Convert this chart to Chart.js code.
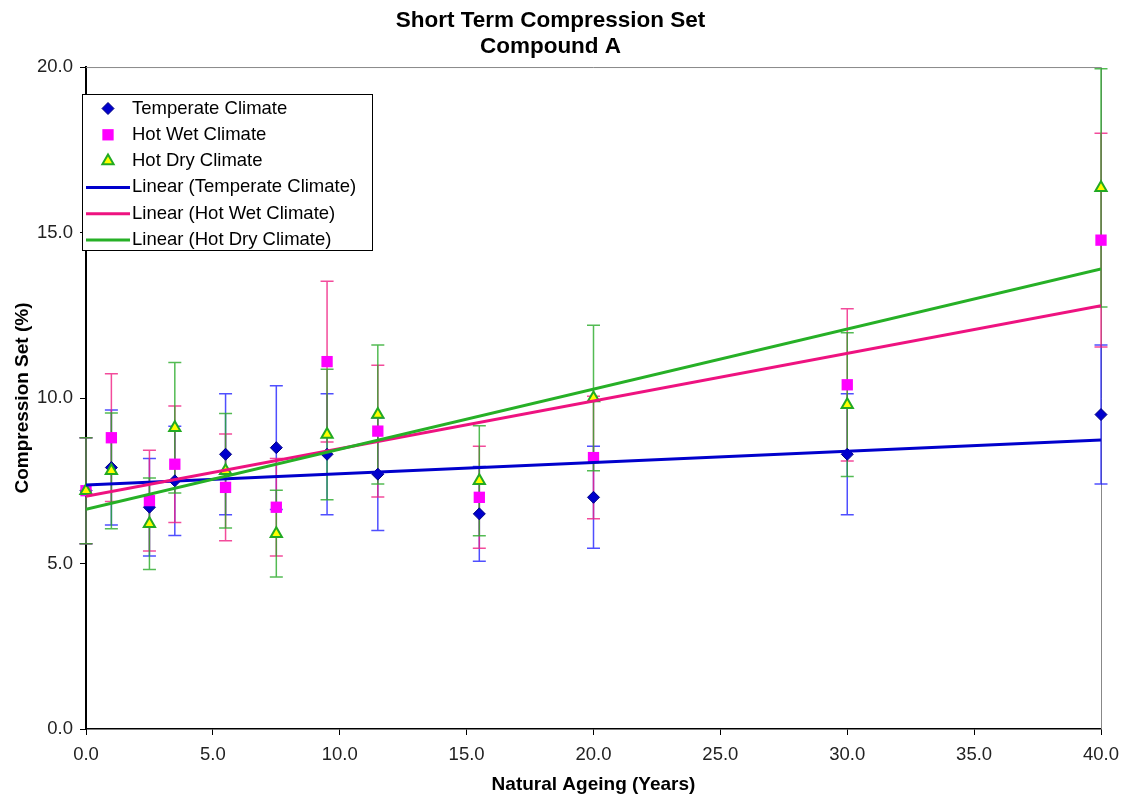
<!DOCTYPE html>
<html>
<head>
<meta charset="utf-8">
<title>Short Term Compression Set - Compound A</title>
<script src="https://cdn.jsdelivr.net/npm/chart.js@4.4.1/dist/chart.umd.min.js"></script>
<style>
  html, body { margin: 0; padding: 0; background: #fff; }
  #wrap { width: 1125px; height: 801px; position: relative; }
</style>
</head>
<body>
<div id="wrap"><canvas id="compressionChart"></canvas></div>
<script>
// Natural ageing (years) at which the samples were tested
const ageYears = [0, 1, 2.5, 3.5, 5.5, 7.5, 9.5, 11.5, 15.5, 20, 30, 40];

// Compression set (%) per climate, with the +/- error bar size
const temperate    = [7.2, 7.9, 6.7, 7.5, 8.3, 8.5, 8.3, 7.7, 6.5, 7.0, 8.3, 9.5];
const temperateErr = [1.6, 1.74, 1.47, 1.65, 1.83, 1.87, 1.83, 1.7, 1.43, 1.54, 1.83, 2.1];
const hotWet       = [7.2, 8.8, 6.9, 8.0, 7.3, 6.7, 11.1, 9.0, 7.0, 8.2, 10.4, 14.77];
const hotWetErr    = [1.6, 1.93, 1.52, 1.76, 1.61, 1.47, 2.43, 1.99, 1.54, 1.85, 2.3, 3.23];
const hotDry       = [7.2, 7.8, 6.2, 9.1, 7.8, 5.9, 8.9, 9.5, 7.5, 10.0, 9.8, 16.35];
const hotDryErr    = [1.6, 1.75, 1.38, 1.97, 1.73, 1.31, 1.97, 2.1, 1.66, 2.2, 2.17, 3.6];

// Linear trendlines (end points)
const trendX         = [0, 40];
const trendTemperate = [7.37, 8.73];
const trendHotWet    = [7.03, 12.79];
const trendHotDry    = [6.64, 13.9];

const FONT = '"Liberation Sans", Arial, sans-serif';

function toPoints(xs, ys) {
  return xs.map((x, i) => ({ x: x, y: ys[i] }));
}

// Vertical error bars with caps, drawn under the markers
const errorBars = {
  id: 'errorBars',
  beforeDatasetsDraw(chart) {
    const { ctx, scales: { x, y } } = chart;
    chart.data.datasets.forEach(ds => {
      if (!ds.errors) return;
      ctx.save();
      ctx.strokeStyle = ds.errorColor;
      ctx.lineWidth = 1.5;
      ds.data.forEach((pt, i) => {
        const px = x.getPixelForValue(pt.x);
        const top = y.getPixelForValue(pt.y + ds.errors[i]);
        const bot = y.getPixelForValue(pt.y - ds.errors[i]);
        ctx.beginPath();
        ctx.moveTo(px, top); ctx.lineTo(px, bot);
        ctx.moveTo(px - 6.5, top); ctx.lineTo(px + 6.5, top);
        ctx.moveTo(px - 6.5, bot); ctx.lineTo(px + 6.5, bot);
        ctx.stroke();
      });
      ctx.restore();
    });
  }
};

// Grey frame on top and right of the plot area
const plotFrame = {
  id: 'plotFrame',
  beforeDatasetsDraw(chart) {
    const { ctx, chartArea: a } = chart;
    ctx.save();
    ctx.strokeStyle = '#888';
    ctx.lineWidth = 1;
    ctx.beginPath();
    ctx.moveTo(a.left, a.top + 0.5);
    ctx.lineTo(a.right + 0.5, a.top + 0.5);
    ctx.lineTo(a.right + 0.5, a.bottom);
    ctx.stroke();
    ctx.restore();
  }
};

// Boxed legend sitting over the top-left of the plot
const boxLegend = {
  id: 'boxLegend',
  afterDraw(chart) {
    const ctx = chart.ctx;
    ctx.save();
    ctx.fillStyle = '#fff';
    ctx.fillRect(82.5, 94.5, 290, 156);
    ctx.strokeStyle = '#000';
    ctx.lineWidth = 1;
    ctx.strokeRect(82.5, 94.5, 290, 156);
    ctx.font = '18.5px ' + FONT;
    ctx.textBaseline = 'middle';
    chart.data.datasets.forEach((ds, i) => {
      const ly = 108.5 + i * 26.3;
      if (ds.showLine) {
        ctx.strokeStyle = ds.borderColor;
        ctx.lineWidth = 3;
        ctx.beginPath();
        ctx.moveTo(86, ly);
        ctx.lineTo(130, ly);
        ctx.stroke();
      } else {
        ctx.fillStyle = ds.backgroundColor;
        ctx.strokeStyle = ds.borderColor;
        ctx.lineWidth = ds.borderWidth;
        Chart.helpers.drawPoint(ctx, {
          pointStyle: ds.pointStyle, radius: ds.pointRadius, rotation: 0, borderWidth: ds.borderWidth
        }, 108, ly);
      }
      ctx.fillStyle = '#000';
      ctx.fillText(ds.label, 132, ly);
    });
    ctx.restore();
  }
};

const ctx = document.getElementById('compressionChart').getContext('2d');
new Chart(ctx, {
  type: 'scatter',
  data: {
    datasets: [{
      label: 'Temperate Climate',
      data: toPoints(ageYears, temperate),
      errors: temperateErr,
      errorColor: 'rgba(20,20,255,0.75)',
      pointStyle: 'rectRot',
      pointRadius: 6,
      backgroundColor: '#0000cc',
      borderColor: '#000080',
      borderWidth: 1,
      clip: false,
      order: 6
    }, {
      label: 'Hot Wet Climate',
      data: toPoints(ageYears, hotWet),
      errors: hotWetErr,
      errorColor: 'rgba(240,30,130,0.8)',
      pointStyle: 'rect',
      pointRadius: 8,
      backgroundColor: '#ff00ff',
      borderColor: '#ff00ff',
      borderWidth: 0,
      clip: false,
      order: 5
    }, {
      label: 'Hot Dry Climate',
      data: toPoints(ageYears, hotDry),
      errors: hotDryErr,
      errorColor: 'rgba(40,170,40,0.8)',
      pointStyle: 'triangle',
      pointRadius: 6.5,
      backgroundColor: '#ffff00',
      borderColor: '#22aa22',
      borderWidth: 2,
      clip: false,
      order: 4
    }, {
      label: 'Linear (Temperate Climate)',
      data: toPoints(trendX, trendTemperate),
      showLine: true,
      pointRadius: 0,
      borderColor: '#0000cc',
      borderWidth: 3,
      order: 3
    }, {
      label: 'Linear (Hot Wet Climate)',
      data: toPoints(trendX, trendHotWet),
      showLine: true,
      pointRadius: 0,
      borderColor: '#ee1280',
      borderWidth: 3,
      order: 2
    }, {
      label: 'Linear (Hot Dry Climate)',
      data: toPoints(trendX, trendHotDry),
      showLine: true,
      pointRadius: 0,
      borderColor: '#26b026',
      borderWidth: 3,
      order: 1
    }]
  },
  options: {
    responsive: true,
    maintainAspectRatio: false,
    animation: false,
    layout: { padding: { left: 0, right: 24, top: 0, bottom: 0 } },
    plugins: {
      legend: { display: false },
      tooltip: { enabled: false },
      title: {
        display: true,
        text: ['Short Term Compression Set', 'Compound A'],
        color: '#000',
        font: { family: FONT, size: 22.5, weight: 'bold', lineHeight: 1.19 },
        padding: { top: 7, bottom: 6.5 }
      }
    },
    scales: {
      x: {
        type: 'linear',
        min: 0,
        max: 40,
        afterFit(scale) {
          scale.height = 72;
          scale.paddingLeft = 0;
          scale.paddingRight = 0;
        },
        ticks: {
          stepSize: 5,
          maxRotation: 0,
          padding: 9,
          color: '#222',
          font: { family: FONT, size: 18.5 },
          callback: v => v.toFixed(1)
        },
        grid: { drawOnChartArea: false, tickLength: 6, color: '#000' },
        border: { color: '#000', width: 1.5 },
        title: {
          display: true,
          text: 'Natural Ageing (Years)',
          color: '#000',
          font: { family: FONT, size: 19, weight: 'bold' },
          padding: { top: 0, bottom: 5 }
        }
      },
      y: {
        min: 0,
        max: 20,
        afterFit(scale) { scale.width = 86; },
        ticks: {
          stepSize: 5,
          padding: 7,
          color: '#222',
          font: { family: FONT, size: 18.5 },
          callback: v => v.toFixed(1)
        },
        grid: { drawOnChartArea: false, tickLength: 6, color: '#000' },
        border: { color: '#000', width: 2 },
        title: {
          display: true,
          text: 'Compression Set (%)',
          color: '#000',
          font: { family: FONT, size: 19, weight: 'bold' },
          padding: { top: 11, bottom: 0 }
        }
      }
    }
  },
  plugins: [plotFrame, errorBars, boxLegend]
});
</script>
</body>
</html>
